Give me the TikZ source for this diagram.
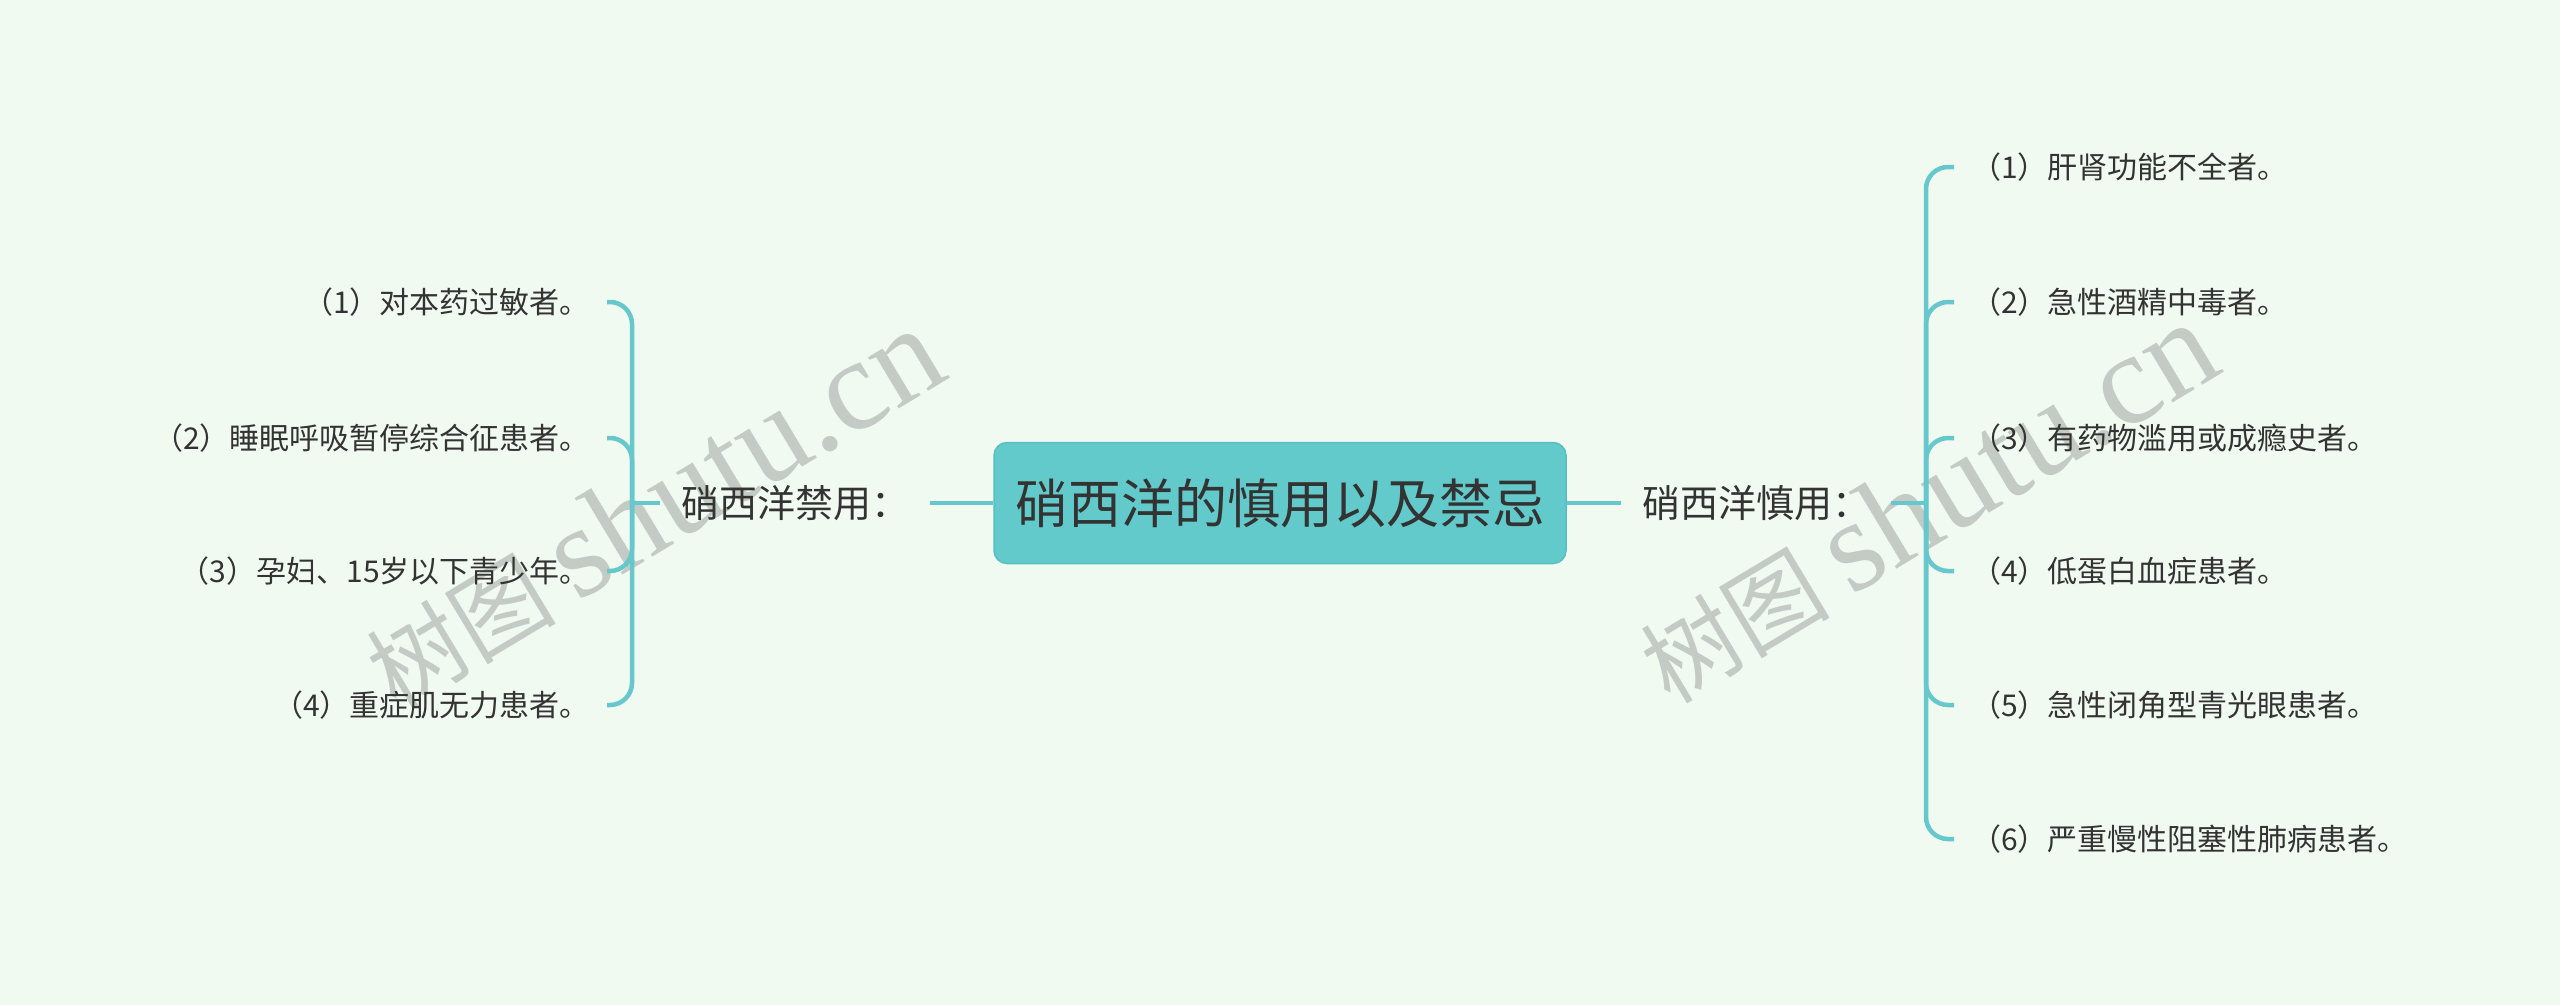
\documentclass[tikz,border=0pt]{standalone}
\usepackage{fontspec}
\setmainfont{Noto Sans CJK SC}
\newfontfamily\wmserif{Liberation Serif}
\definecolor{bg}{HTML}{F1FAF0}
\definecolor{teal1}{HTML}{66C8CC}
\definecolor{boxfill}{HTML}{63CACB}
\definecolor{boxline}{HTML}{55BFC1}
\definecolor{txt}{HTML}{333333}
\definecolor{wm}{HTML}{C4CBC4}
\begin{document}
\begin{tikzpicture}[x=1pt,y=-1pt,
  conn/.style={draw=teal1,line width=4.5pt},
  branch/.style={conn,rounded corners=22pt},
  centerbox/.style={rectangle,rounded corners=13pt,fill=boxfill,draw=boxline,line width=1.5pt,
    minimum width=572pt,minimum height=121pt,font=\fontsize{53}{60}\selectfont,text=txt},
  sublabel/.style={anchor=west,inner xsep=21pt,inner ysep=0pt,font=\fontsize{38}{44}\selectfont,text=txt},
  leafL/.style={anchor=east,inner xsep=17pt,inner ysep=0pt,font=\fontsize{30}{36}\selectfont,text=txt},
  leafR/.style={anchor=west,inner xsep=17pt,inner ysep=0pt,font=\fontsize{30}{36}\selectfont,text=txt},
  wmark/.style={text=wm,rotate=31,inner sep=0pt,font=\fontsize{95}{110}\selectfont}
]
\fill[bg] (0,0) rectangle (2560,1005);
\useasboundingbox (0,0) rectangle (2560,1005);

\node[wmark] (w1) at (653,509) {树图 {\wmserif\fontsize{130}{140}\selectfont shutu.cn}};
\node[wmark] (w2) at (1927,503) {树图 {\wmserif\fontsize{130}{140}\selectfont shutu.cn}};

\node[centerbox] (C) at (1280,503) {硝西洋的慎用以及禁忌};
\node[sublabel] (L) at (660,503) {硝西洋禁用：};
\node[sublabel] (R) at (1621,503) {硝西洋慎用：};
\coordinate (LJ) at (632,503);
\coordinate (RJ) at (1926,503);

\node[leafL] (l1) at (607,302) {（1）对本药过敏者。};
\node[leafL] (l2) at (607,438) {（2）睡眠呼吸暂停综合征患者。};
\node[leafL] (l3) at (607,571) {（3）孕妇、15岁以下青少年。};
\node[leafL] (l4) at (607,705) {（4）重症肌无力患者。};

\node[leafR] (r1) at (1954,167) {（1）肝肾功能不全者。};
\node[leafR] (r2) at (1954,302) {（2）急性酒精中毒者。};
\node[leafR] (r3) at (1954,438) {（3）有药物滥用或成瘾史者。};
\node[leafR] (r4) at (1954,571) {（4）低蛋白血症患者。};
\node[leafR] (r5) at (1954,705) {（5）急性闭角型青光眼患者。};
\node[leafR] (r6) at (1954,839) {（6）严重慢性阻塞性肺病患者。};

\draw[conn] (C.west) -- (L.east);
\draw[conn] (C.east) -- (R.west);
\draw[conn] (L.west) -- (LJ);
\draw[conn] (R.east) -- (RJ);
\foreach \i in {1,...,4} {\draw[branch] (LJ) |- (l\i.east);}
\foreach \i in {1,...,6} {\draw[branch] (RJ) |- (r\i.west);}
\end{tikzpicture}
\end{document}
